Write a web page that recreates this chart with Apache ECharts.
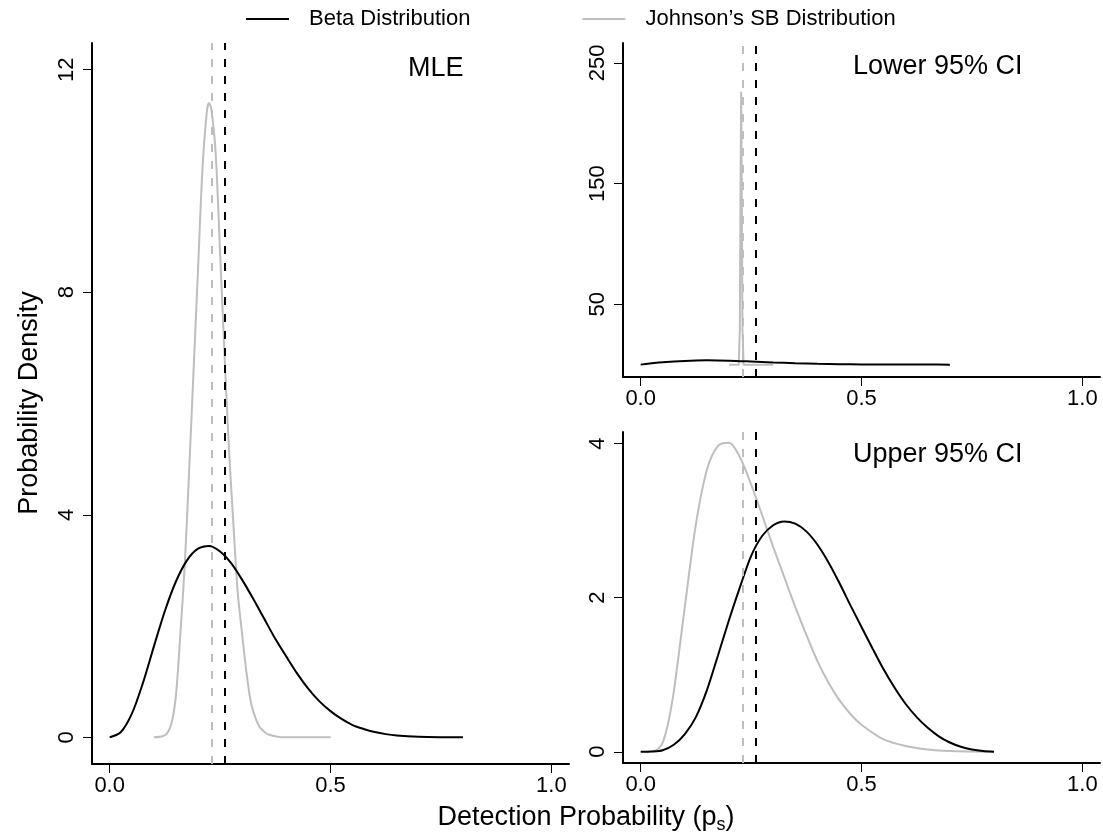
<!DOCTYPE html>
<html lang="en">
<head>
    <meta charset="UTF-8">
    <title>Detection Probability</title>
    <script src="https://cdn.jsdelivr.net/npm/echarts@6/dist/echarts.min.js"></script>
    <style>
        html, body {margin: 0; padding: 0; background: #fff;}
    </style>
</head>
<body>
<div id="chart" style="width: 1103px;height: 837px"></div>

<script>
    // tick positions
    const xTicks = [0, 0.5, 1];
    const mleYTicks = [0, 4, 8, 12];
    const lowerYTicks = [50, 150, 250];
    const upperYTicks = [0, 2, 4];

    // reference lines
    const johnsonRef = 0.228;
    const betaRef = 0.26;

    // MLE panel
    const mleBetaX = [0, 0.025, 0.05, 0.075, 0.1, 0.125, 0.15, 0.175, 0.2, 0.225, 0.25, 0.275, 0.3, 0.325, 0.35, 0.375, 0.4, 0.425, 0.45, 0.475, 0.5, 0.525, 0.55, 0.575, 0.6, 0.625, 0.65, 0.7, 0.75, 0.8];
    const mleBetaY = [0, 0.09, 0.42, 0.97, 1.63, 2.27, 2.80, 3.18, 3.39, 3.44, 3.34, 3.13, 2.83, 2.49, 2.13, 1.77, 1.45, 1.14, 0.87, 0.645, 0.47, 0.33, 0.22, 0.15, 0.095, 0.057, 0.033, 0.01, 0.002, 0];
    const mleJohnsonX = [0.1, 0.12, 0.13, 0.14, 0.15, 0.16, 0.17, 0.18, 0.19, 0.2, 0.21, 0.22, 0.225, 0.23, 0.24, 0.25, 0.26, 0.27, 0.28, 0.29, 0.3, 0.31, 0.32, 0.33, 0.34, 0.35, 0.36, 0.38, 0.4, 0.5];
    const mleJohnsonY = [0, 0.02, 0.07, 0.25, 0.75, 1.85, 3.1, 4.8, 6.6, 8.4, 10.2, 11.25, 11.4, 11.3, 10.5, 8.7, 6.9, 5.2, 3.85, 2.6, 1.85, 1.15, 0.62, 0.35, 0.18, 0.10, 0.05, 0.01, 0, 0];

    // Lower 95% CI panel
    const lowerBetaX = [0, 0.05, 0.1, 0.15, 0.2, 0.25, 0.3, 0.35, 0.4, 0.45, 0.5, 0.55, 0.6, 0.65, 0.7];
    const lowerBetaY = [0, 1.9, 3.1, 3.55, 3.3, 2.6, 1.8, 1.15, 0.65, 0.33, 0.15, 0.06, 0.02, 0.005, 0];
    const lowerJohnsonX = [0.2, 0.222, 0.2245, 0.2265, 0.2275, 0.2285, 0.2305, 0.233, 0.3];
    const lowerJohnsonY = [0, 0, 30, 170, 226, 170, 30, 0, 0];

    // Upper 95% CI panel
    const upperBetaX = [0, 0.025, 0.05, 0.075, 0.1, 0.125, 0.15, 0.175, 0.2, 0.225, 0.25, 0.275, 0.3, 0.325, 0.35, 0.375, 0.4, 0.425, 0.45, 0.475, 0.5, 0.525, 0.55, 0.575, 0.6, 0.625, 0.65, 0.675, 0.7, 0.725, 0.75, 0.775, 0.8];
    const upperBetaY = [0, 0.003, 0.02, 0.09, 0.23, 0.45, 0.80, 1.25, 1.71, 2.14, 2.54, 2.80, 2.94, 2.99, 2.96, 2.86, 2.69, 2.46, 2.19, 1.90, 1.62, 1.34, 1.07, 0.83, 0.62, 0.45, 0.31, 0.20, 0.12, 0.065, 0.03, 0.01, 0];
    const upperJohnsonX = [0.01, 0.025, 0.04, 0.05, 0.0625, 0.075, 0.1, 0.125, 0.15, 0.175, 0.2, 0.225, 0.25, 0.275, 0.3, 0.325, 0.35, 0.375, 0.4, 0.425, 0.45, 0.475, 0.5, 0.55, 0.6, 0.65, 0.7, 0.8];
    const upperJohnsonY = [0, 0.005, 0.04, 0.12, 0.38, 0.78, 1.88, 2.95, 3.66, 3.97, 4.01, 3.82, 3.47, 3.07, 2.66, 2.27, 1.88, 1.52, 1.18, 0.90, 0.67, 0.49, 0.35, 0.16, 0.075, 0.03, 0.01, 0];

    const font = '"Liberation Sans", Arial, Helvetica, sans-serif';
    const grey = '#bebebe';

    function pairs(xs, ys) {
        return xs.map((x, i) => [x, ys[i]]);
    }

    function xAxisFor(gi) {
        return {
            type: 'value', gridIndex: gi, min: -0.04, max: 1.04,
            axisLine: {onZero: false, lineStyle: {color: '#000', width: 2}},
            axisTick: {customValues: xTicks, length: 9, lineStyle: {color: '#000', width: 1}},
            axisLabel: {
                customValues: xTicks, formatter: v => v.toFixed(1),
                fontSize: 22, color: '#000', fontFamily: font, margin: 11
            },
            splitLine: {show: false}
        };
    }

    function yAxisFor(gi, min, max, ticks) {
        return {
            type: 'value', gridIndex: gi, min: min, max: max,
            axisLine: {onZero: false, lineStyle: {color: '#000', width: 2}},
            axisTick: {customValues: ticks, length: 9, lineStyle: {color: '#000', width: 1}},
            axisLabel: {
                customValues: ticks, rotate: 90,
                fontSize: 22, color: '#000', fontFamily: font, margin: 14
            },
            splitLine: {show: false}
        };
    }

    function refLine(value, color) {
        return {
            silent: true, symbol: 'none', animation: false,
            label: {show: false},
            lineStyle: {color: color, type: [8, 9], width: 2},
            data: [{xAxis: value}]
        };
    }

    function curve(name, gi, xs, ys, color, ref, smooth) {
        return {
            name: name, type: 'line', xAxisIndex: gi, yAxisIndex: gi,
            data: pairs(xs, ys), symbol: 'none', smooth: smooth,
            lineStyle: {color: color, width: 2}, itemStyle: {color: color},
            markLine: refLine(ref, color)
        };
    }

    const BETA = 'Beta Distribution';
    const JOHNSON = 'Johnson\u2019s SB Distribution';

    let chart = echarts.init(document.getElementById('chart'));

    let option = {
        animation: false,
        backgroundColor: '#fff',
        legend: {
            data: [
                {name: BETA, icon: 'rect'},
                {name: JOHNSON, icon: 'rect'}
            ],
            left: 241, top: 3,
            itemWidth: 43, itemHeight: 2, itemGap: 112,
            textStyle: {fontSize: 22, color: '#000', fontFamily: font, padding: [0, 0, 0, 15]}
        },
        grid: [
            {left: 92, top: 43, width: 477, height: 721},
            {left: 623, top: 43, width: 477, height: 334},
            {left: 623, top: 432, width: 477, height: 331}
        ],
        xAxis: [xAxisFor(0), xAxisFor(1), xAxisFor(2)],
        yAxis: [
            yAxisFor(0, -0.48, 12.48, mleYTicks),
            yAxisFor(1, -10.25, 266.45, lowerYTicks),
            yAxisFor(2, -0.146, 4.15, upperYTicks)
        ],
        series: [
            curve(JOHNSON, 0, mleJohnsonX, mleJohnsonY, grey, johnsonRef, 0.3),
            curve(BETA, 0, mleBetaX, mleBetaY, '#000', betaRef, 0.3),
            curve(JOHNSON, 1, lowerJohnsonX, lowerJohnsonY, grey, johnsonRef, false),
            curve(BETA, 1, lowerBetaX, lowerBetaY, '#000', betaRef, 0.3),
            curve(JOHNSON, 2, upperJohnsonX, upperJohnsonY, grey, johnsonRef, 0.3),
            curve(BETA, 2, upperBetaX, upperBetaY, '#000', betaRef, 0.3)
        ],
        graphic: [
            {type: 'text', x: 408, y: 69, style: {text: 'MLE', fontSize: 27, fontFamily: font, fill: '#000', textVerticalAlign: 'middle'}},
            {type: 'text', x: 853, y: 67, style: {text: 'Lower 95% CI', fontSize: 27, fontFamily: font, fill: '#000', textVerticalAlign: 'middle'}},
            {type: 'text', x: 853, y: 455, style: {text: 'Upper 95% CI', fontSize: 27, fontFamily: font, fill: '#000', textVerticalAlign: 'middle'}},
            {
                type: 'text', x: 586, y: 818,
                style: {
                    text: 'Detection Probability (p{sub|s})', fontSize: 27, lineHeight: 32,
                    fontFamily: font, fill: '#000', textAlign: 'center', textVerticalAlign: 'middle',
                    rich: {sub: {fontSize: 18, lineHeight: 18, verticalAlign: 'bottom', fontFamily: font, fill: '#000'}}
                }
            },
            {
                type: 'text', x: 30, y: 403, rotation: Math.PI / 2,
                style: {text: 'Probability Density', fontSize: 27, fontFamily: font, fill: '#000', textAlign: 'center', textVerticalAlign: 'middle'}
            }
        ]
    };
    chart.setOption(option);
</script>
</body>
</html>
